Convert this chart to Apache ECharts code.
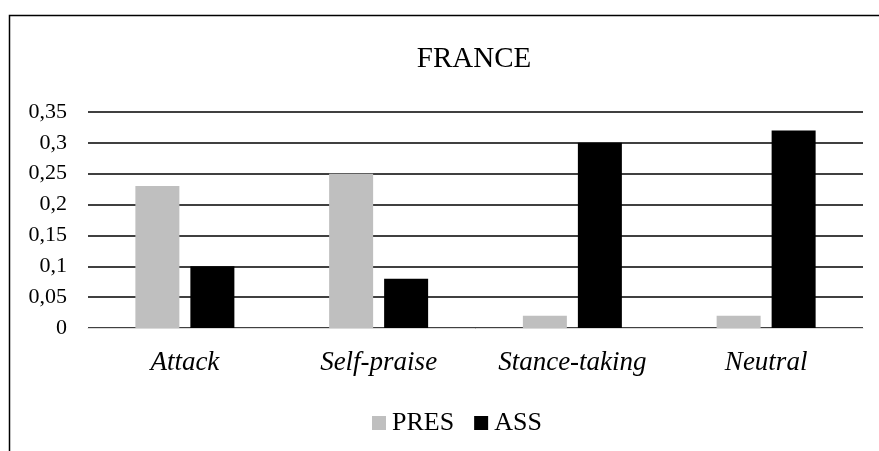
<!DOCTYPE html>
<html>
<head>
<meta charset="utf-8">
<script src="https://cdn.jsdelivr.net/npm/echarts@6/dist/echarts.min.js"></script>
<style>
html, body { margin: 0; padding: 0; background: #fff; }
#main { width: 879px; height: 451px; }
</style>
</head>
<body>
<div id="main"></div>
<script>
var categories = ['Attack', 'Self-praise', 'Stance-taking', 'Neutral']
var presValues = [0.23, 0.25, 0.02, 0.02]
var assValues = [0.10, 0.08, 0.30, 0.32]
var seriesNames = ['PRES', 'ASS']

var serif = '"Liberation Serif", "DejaVu Serif", serif'
var myChart = echarts.init(document.getElementById('main'))

var option = {
  backgroundColor: '#fff',
  animation: false,
  graphic: [
    {
      type: 'rect',
      shape: { x: 9.5, y: 15.5, width: 1000, height: 1000 },
      style: { fill: 'none', stroke: '#000', lineWidth: 1.5 },
      silent: true
    }
  ],
  title: {
    text: 'FRANCE',
    left: 469,
    top: 40,
    textAlign: 'center',
    textStyle: { fontFamily: serif, fontSize: 29, fontWeight: 'normal', color: '#000' }
  },
  legend: {
    data: seriesNames,
    top: 405,
    left: 367,
    itemWidth: 14,
    itemHeight: 14,
    itemGap: 20,
    icon: 'rect',
    textStyle: { fontFamily: serif, fontSize: 26, color: '#000', padding: [0, 0, 0, 1] }
  },
  grid: {
    left: 88,
    right: 16,
    top: 112,
    bottom: 123
  },
  xAxis: {
    type: 'category',
    data: categories,
    axisTick: { show: false },
    axisLine: { lineStyle: { color: '#d9d9d9', width: 1 } },
    axisLabel: {
      margin: 21,
      fontFamily: serif,
      fontSize: 27,
      fontStyle: 'italic',
      color: '#000'
    }
  },
  yAxis: {
    type: 'value',
    min: 0,
    max: 0.35,
    interval: 0.05,
    axisLine: { show: false },
    axisTick: { show: false },
    splitLine: { lineStyle: { color: '#000', width: 1.5 } },
    axisLabel: {
      margin: 21,
      fontFamily: serif,
      fontSize: 22,
      color: '#000',
      formatter: function (v) {
        return String(Math.round(v * 100) / 100).replace('.', ',')
      }
    }
  },
  series: [
    {
      name: seriesNames[0],
      type: 'bar',
      data: presValues,
      barWidth: 44,
      barGap: '25%',
      itemStyle: { color: '#bfbfbf' }
    },
    {
      name: seriesNames[1],
      type: 'bar',
      data: assValues,
      barWidth: 44,
      barGap: '25%',
      itemStyle: { color: '#000' }
    }
  ]
}

myChart.setOption(option)
</script>
</body>
</html>
